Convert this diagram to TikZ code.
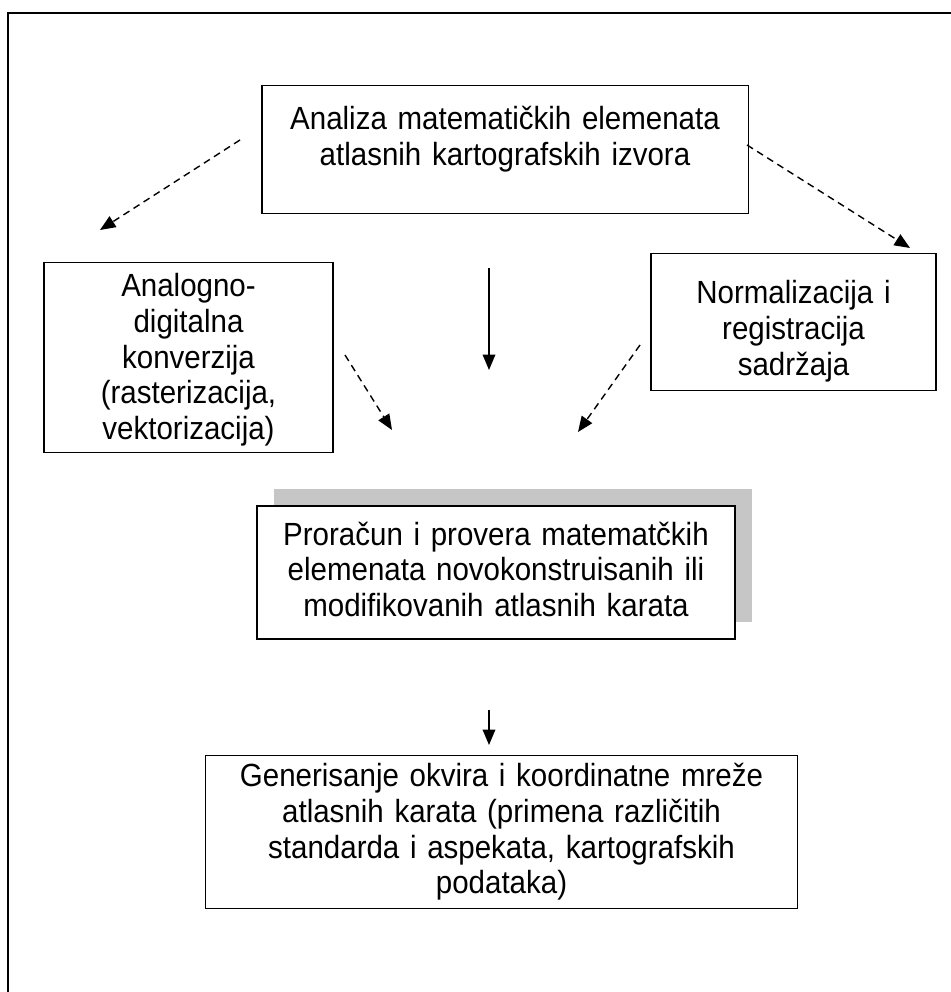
\documentclass[tikz,border=0pt]{standalone}
\usepackage{fontspec}
\setmainfont{Liberation Sans}[FakeStretch=0.92]
\usetikzlibrary{arrows.meta,shadows}

\begin{document}
\begin{tikzpicture}[x=0.025cm, y=-0.025cm,
  box/.style = {draw, line width=0.8pt, fill=white, align=center, inner sep=0pt, anchor=north,
                font=\fontsize{22.8}{25.4}\selectfont},
  tok/.style = {-{Triangle[length=11pt,width=9pt]}, line width=1pt},
  isprek/.style = {tok, dash pattern=on 5pt off 3.5pt}]
      \useasboundingbox (0,0) rectangle (951,992);
      \draw[line width=1pt] (8,992) -- (8,13) -- (951,13);

      \node[box, text width=12.15cm, text height=1.1cm, text depth=2.1cm] (analiza) at (505,85)
        {Analiza matematičkih elemenata\\ atlasnih kartografskih izvora};
      \node[box, text width=7.225cm, text height=0.85cm, text depth=3.9cm] (konverzija) at (188.5,262)
        {Analogno-\\ digitalna\\ konverzija\\ (rasterizacija,\\ vektorizacija)};
      \node[box, text width=7.125cm, text height=1.25cm, text depth=2.175cm] (normalizacija) at (793.5,253)
        {Normalizacija i\\ registracija\\ sadržaja};
      \node[box, line width=1.6pt, text width=11.95cm, text height=0.975cm, text depth=2.35cm,
            drop shadow={shadow xshift=0.425cm, shadow yshift=0.425cm, fill=gray!45, opacity=1}] (proracun) at (496,505)
        {Proračun i provera matematčkih\\ elemenata novokonstruisanih ili\\ modifikovanih atlasnih karata};
      \node[box, text width=14.775cm, text height=0.775cm, text depth=3.05cm] (generisanje) at (501.5,755)
        {Generisanje okvira i koordinatne mreže\\ atlasnih karata (primena različitih\\ standarda i aspekata, kartografskih\\ podataka)};

      % free ends of the arrows
      \coordinate (l1) at (240,140);  \coordinate (l2) at (100,230);
      \coordinate (r1) at (747,145);  \coordinate (r2) at (910,248);
      \coordinate (s1) at (489,268);  \coordinate (s2) at (489,370);
      \coordinate (k1) at (345,355);  \coordinate (k2) at (392,430);
      \coordinate (n1) at (640,345);  \coordinate (n2) at (578,432);
      \coordinate (p1) at (489,710);  \coordinate (p2) at (489,745);

      \path[isprek]
      (l1) edge (l2)
      (r1) edge (r2)
      (k1) edge (k2)
      (n1) edge (n2);
      \path[tok]
      (s1) edge (s2)
      (p1) edge (p2);
    \end{tikzpicture}
\end{document}
